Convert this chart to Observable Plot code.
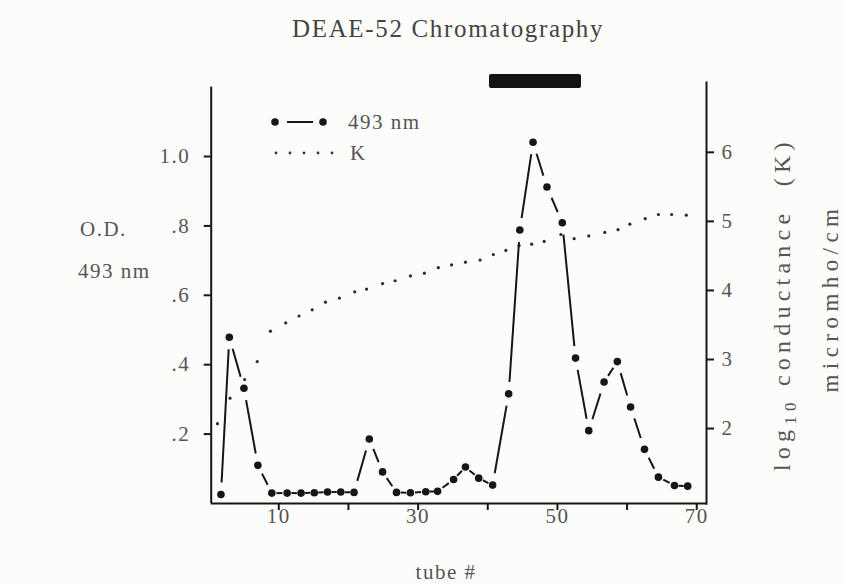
<!DOCTYPE html>
<html><head><meta charset="utf-8">
<script src="https://cdn.jsdelivr.net/npm/d3@7"></script>
<script src="https://cdn.jsdelivr.net/npm/@observablehq/plot@0.6"></script>
<style>
html,body{margin:0;padding:0;background:#fcfcfb;}
#wrap{position:relative;width:843px;height:584px;overflow:hidden;}
#wrap svg{position:absolute;left:0;top:0;}
#wrap text{letter-spacing:1.5px;}
.lbl{font-family:"Liberation Serif",serif;font-size:21px;fill:#555;white-space:pre;letter-spacing:2px;}
</style></head><body><div id="wrap"></div>
<script>
// O.D. at 493 nm per tube
const odTube = [1.7, 2.9, 5.0, 7.0, 9.0, 11.2, 13.2, 15.1, 17.0, 18.9, 20.8, 23.0, 24.9, 26.9, 28.9, 31.1, 32.8, 35.1, 36.8, 38.7, 40.7, 43.0, 44.6, 46.5, 48.5, 50.7, 52.6, 54.5, 56.7, 58.6, 60.5, 62.5, 64.5, 66.8, 68.7];
const od493 = [0.026, 0.479, 0.332, 0.110, 0.030, 0.030, 0.030, 0.031, 0.033, 0.033, 0.032, 0.186, 0.091, 0.032, 0.031, 0.034, 0.035, 0.069, 0.105, 0.073, 0.053, 0.316, 0.788, 1.041, 0.912, 0.809, 0.419, 0.210, 0.350, 0.409, 0.278, 0.156, 0.076, 0.052, 0.050];
// log10 conductance (K) per tube
const kTube = [1.2, 3.0, 5.1, 6.9, 8.8, 11.0, 12.9, 14.8, 16.7, 18.7, 20.9, 22.6, 24.9, 26.7, 28.9, 30.9, 32.9, 34.8, 36.8, 38.9, 40.8, 42.6, 44.5, 46.3, 48.1, 50.5, 52.4, 54.5, 56.8, 58.7, 60.4, 62.6, 64.5, 66.4, 68.5];
const kValue = [2.07, 2.44, 2.71, 2.97, 3.41, 3.53, 3.63, 3.72, 3.83, 3.89, 3.98, 4.02, 4.10, 4.14, 4.21, 4.25, 4.33, 4.37, 4.41, 4.44, 4.52, 4.58, 4.65, 4.67, 4.71, 4.81, 4.75, 4.79, 4.84, 4.88, 4.96, 5.04, 5.10, 5.10, 5.09];
// tick labels
const xTicks = [10, 20, 30, 40, 50, 60, 70];
const xTickLabels = [10, 30, 50, 70];
const odTicks = [0.2, 0.4, 0.6, 0.8, 1.0];
const odTickLabels = [".2", ".4", ".6", ".8", "1.0"];
const kTicks = [2, 3, 4, 5, 6];
// right axis (K) expressed on the O.D. scale
const kRef = 2, kRefOD = 0.216, kStepOD = 0.199;
const kToOD = k => kRefOD + (k - kRef) * kStepOD;

const W = 843, H = 584;
const mL = 210.7, mR = 137, mT = 86.6, mB = 81;
const xDomain = [0.3, 71.4], yDomain = [0, 1.2];

const od = odTube.map((t, i) => ({t, v: od493[i]}));
const kd = kTube.map((t, i) => ({t, k: kValue[i]}));

// segments between O.D. points, broken near each dot
let xs, ys;
try {
  xs = Plot.scale({x: {domain: xDomain, range: [mL, W - mR]}});
  ys = Plot.scale({y: {domain: yDomain, range: [H - mB, mT]}});
} catch (e) {
  const lx = d3.scaleLinear(xDomain, [mL, W - mR]), ly = d3.scaleLinear(yDomain, [H - mB, mT]);
  xs = {apply: lx, invert: lx.invert}; ys = {apply: ly, invert: ly.invert};
}
const segs = [];
for (let i = 0; i < od.length - 1; i++) {
  const ax = xs.apply(od[i].t), ay = ys.apply(od[i].v);
  const bx = xs.apply(od[i + 1].t), by = ys.apply(od[i + 1].v);
  const len = Math.hypot(bx - ax, by - ay);
  const g = Math.min(12, 0.3 * len);
  const ux = (bx - ax) / len, uy = (by - ay) / len;
  segs.push({
    x1: xs.invert(ax + ux * g), y1: ys.invert(ay + uy * g),
    x2: xs.invert(bx - ux * g), y2: ys.invert(by - uy * g)
  });
}

const ink = "#161616", grey = "#555";
const font = {fontFamily: "Liberation Serif", fontSize: 21};

const chart = Plot.plot({
  width: W, height: H,
  marginLeft: mL, marginRight: mR, marginTop: mT, marginBottom: mB,
  x: {domain: xDomain},
  y: {domain: yDomain},
  style: {background: "transparent", fontFamily: "Liberation Serif", fontSize: "21px", color: grey},
  marks: [
    // axis lines
    Plot.ruleX([xDomain[0]], {y1: 0, y2: yDomain[1], stroke: ink, strokeWidth: 2}),
    Plot.ruleX([xDomain[1]], {y1: -0.005, y2: 1.215, stroke: ink, strokeWidth: 2}),
    Plot.ruleY([0], {x1: xDomain[0], x2: xDomain[1], stroke: ink, strokeWidth: 2}),
    // ticks
    Plot.axisX(xTicks, {anchor: "bottom", tickSize: 7, tickFormat: () => "", stroke: ink, strokeWidth: 2}),
    Plot.axisX(xTickLabels, {anchor: "bottom", tickSize: 0, tickPadding: 5, fill: grey, ...font}),
    Plot.axisY(odTicks, {anchor: "left", tickSize: 7, tickFormat: () => "", stroke: ink, strokeWidth: 2}),
    Plot.axisY(odTicks, {anchor: "left", tickSize: 0, tickPadding: 21, fill: grey, ...font,
      tickFormat: d => odTickLabels[odTicks.findIndex(v => Math.abs(v - d) < 1e-6)]}),
    Plot.axisY(kTicks.map(kToOD), {anchor: "right", tickSize: 7, tickFormat: () => "", stroke: ink, strokeWidth: 2}),
    Plot.axisY(kTicks.map(kToOD), {anchor: "right", tickSize: 0, tickPadding: 15, fill: grey, ...font,
      tickFormat: d => String(Math.round((d - kRefOD) / kStepOD + kRef))}),
    // conductance dotted series
    Plot.dot(kd, {x: "t", y: d => kToOD(d.k), r: 1.6, fill: "#2a2a2a", stroke: "none"}),
    // O.D. series
    Plot.link(segs, {x1: "x1", y1: "y1", x2: "x2", y2: "y2", stroke: ink, strokeWidth: 2}),
    Plot.dot(od, {x: "t", y: "v", r: 3.8, fill: ink, stroke: "none"})
  ]
});
const wrap = document.getElementById("wrap");
wrap.appendChild(chart);

// titles, axis titles and legend
const ns = "http://www.w3.org/2000/svg";
const ov = document.createElementNS(ns, "svg");
ov.setAttribute("width", W); ov.setAttribute("height", H);
ov.innerHTML = `
  <text class="lbl" x="448" y="37" text-anchor="middle" textLength="312" lengthAdjust="spacing" style="font-size:25px;fill:#444">DEAE-52 Chromatography</text>
  <rect x="489" y="74" width="92" height="14" rx="2" fill="#141414"/>
  <text class="lbl" x="80" y="236">O.D.</text>
  <text class="lbl" x="78" y="278">493 nm</text>
  <text class="lbl" x="446" y="579" text-anchor="middle">tube #</text>
  <text class="lbl" transform="translate(790,471) rotate(-90)" style="font-size:24px" textLength="330" lengthAdjust="spacing">log<tspan font-size="17" dy="6">10</tspan><tspan dy="-6"> conductance  (K)</tspan></text>
  <text class="lbl" transform="translate(838,300) rotate(-90)" text-anchor="middle" style="font-size:23px" textLength="185" lengthAdjust="spacing">micromho/cm</text>
  <circle cx="275" cy="122" r="3.8" fill="${ink}"/>
  <line x1="287" y1="122" x2="313" y2="122" stroke="${ink}" stroke-width="2"/>
  <circle cx="323" cy="122" r="3.8" fill="${ink}"/>
  <text class="lbl" x="348" y="129">493 nm</text>
  ${[276, 290, 304, 318, 332].map(x => `<circle cx="${x}" cy="153" r="1.4" fill="#333"/>`).join("")}
  <text class="lbl" x="350" y="160">K</text>
`;
wrap.appendChild(ov);
</script>
</body></html>
